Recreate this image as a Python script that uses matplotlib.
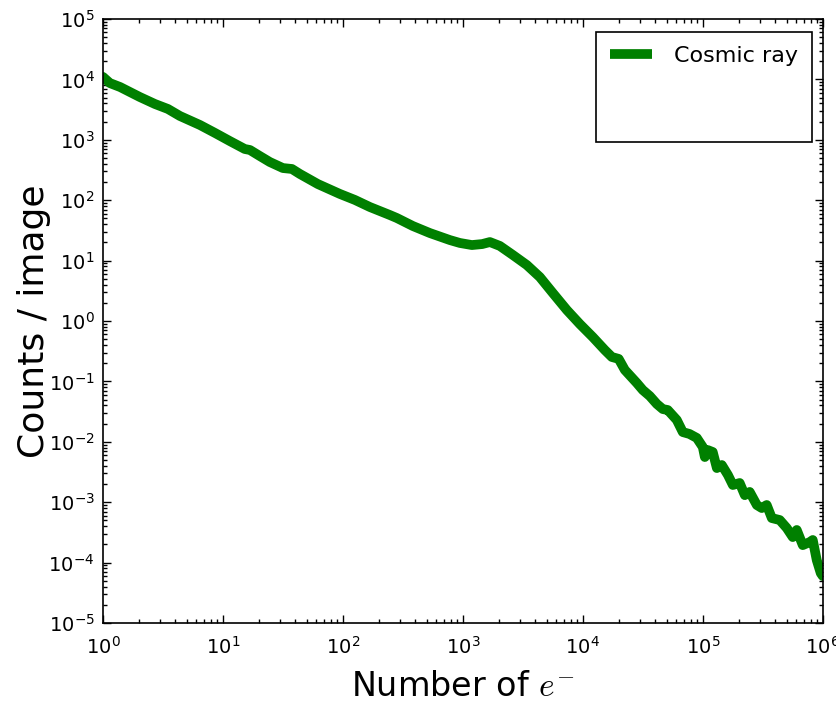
import matplotlib
matplotlib.use('Agg')
import matplotlib.pyplot as plt
import matplotlib.lines as mlines
from matplotlib.ticker import LogLocator, NullFormatter

# Cosmic ray spectrum (counts per image vs number of electrons)
n_electrons = [1.0, 1.14, 1.39, 1.68, 2.03, 2.71, 3.48, 4.38, 6.43, 8.58,
               11.4, 15.2, 16.8, 20.3, 24.6, 31.6, 37.6, 43.8, 61.9, 94.4,
               126, 168, 246, 282, 383, 531, 779, 944, 1189, 1450, 1680, 2034,
               2610, 3415, 4380, 5620, 7360, 9440, 12100, 15250, 17450, 19900,
               22390, 28180, 31600, 36150, 41400, 46400, 51050, 60700, 68100,
               77400, 89100, 1.0e5, 1.04e5, 1.1e5, 1.21e5, 1.31e5, 1.44e5,
               1.62e5, 1.78e5, 2.03e5, 2.24e5, 2.46e5, 2.82e5, 3.1e5, 3.41e5,
               3.76e5, 4.38e5, 5.01e5, 5.62e5, 6.07e5, 6.81e5, 7.79e5, 8.25e5,
               8.91e5, 9.62e5, 1.0e6]
counts = [1.10e4, 8710, 7480, 6180, 5110, 3920, 3240, 2480, 1760, 1300,
          955, 705, 678, 539, 429, 341, 329, 272, 185, 127,
          101, 77.1, 56.9, 50.7, 37.4, 28.6, 21.9, 19.6, 18.1, 18.8, 20.3, 17.5,
          12.4, 8.45, 5.35, 2.91, 1.52, 0.891, 0.543, 0.331, 0.254, 0.236,
          0.155, 0.0942, 0.0721, 0.0573, 0.0423, 0.0349, 0.0336, 0.0230, 0.0145,
          0.0135, 0.0116, 0.0082, 0.0056, 0.00731, 0.00678, 0.00368, 0.00413,
          0.00282, 0.00193, 0.00208, 0.00131, 0.00148, 0.00090, 0.000802, 0.00090,
          0.000547, 0.000507, 0.000374, 0.000265, 0.000347, 0.000195, 0.000219,
          0.000237, 0.000110, 6.7e-5, 6.0e-5]

fig = plt.figure(figsize=(8.37, 7.04), dpi=100)
ax = fig.add_axes([0.123, 0.115, 0.860, 0.858])

ax.plot(n_electrons, counts, color='green', lw=7, solid_joinstyle='round',
        solid_capstyle='round')
ax.set_xscale('log')
ax.set_yscale('log')
ax.set_xlim(1, 1e6)
ax.set_ylim(1e-5, 1e5)

for axis in (ax.xaxis, ax.yaxis):
    axis.set_major_locator(LogLocator(base=10, numticks=15))
    axis.set_minor_locator(LogLocator(base=10, subs=range(2, 10), numticks=15))
    axis.set_minor_formatter(NullFormatter())

ax.set_xlabel(r'Number of $e^{-}$', fontsize=24, math_fontfamily='cm', labelpad=9)
ax.set_ylabel('Counts / image', fontsize=26, labelpad=-2)

ax.tick_params(which='both', direction='in', top=True, right=True, labelsize=14)
ax.tick_params(which='major', length=6, width=1)
ax.tick_params(which='minor', length=3, width=1)
ax.tick_params(axis='x', pad=9)
ax.tick_params(axis='y', pad=6)
for sp in ax.spines.values():
    sp.set_linewidth(1.2)

# legend box in the reference is taller than its single entry
handle = mlines.Line2D([], [], color='green', lw=7, solid_capstyle='butt')
blank = mlines.Line2D([], [], color='none')
leg = ax.legend([handle, blank, blank], ['Cosmic ray', ' ', ' '],
                loc='upper right', bbox_to_anchor=(0.985, 0.9785),
                borderaxespad=0, fontsize=16, fancybox=False, framealpha=1,
                edgecolor='black', handlelength=1.9, handletextpad=1.0,
                borderpad=0.62)
leg.get_frame().set_linewidth(1.2)

fig.savefig('out.png', dpi=100)
